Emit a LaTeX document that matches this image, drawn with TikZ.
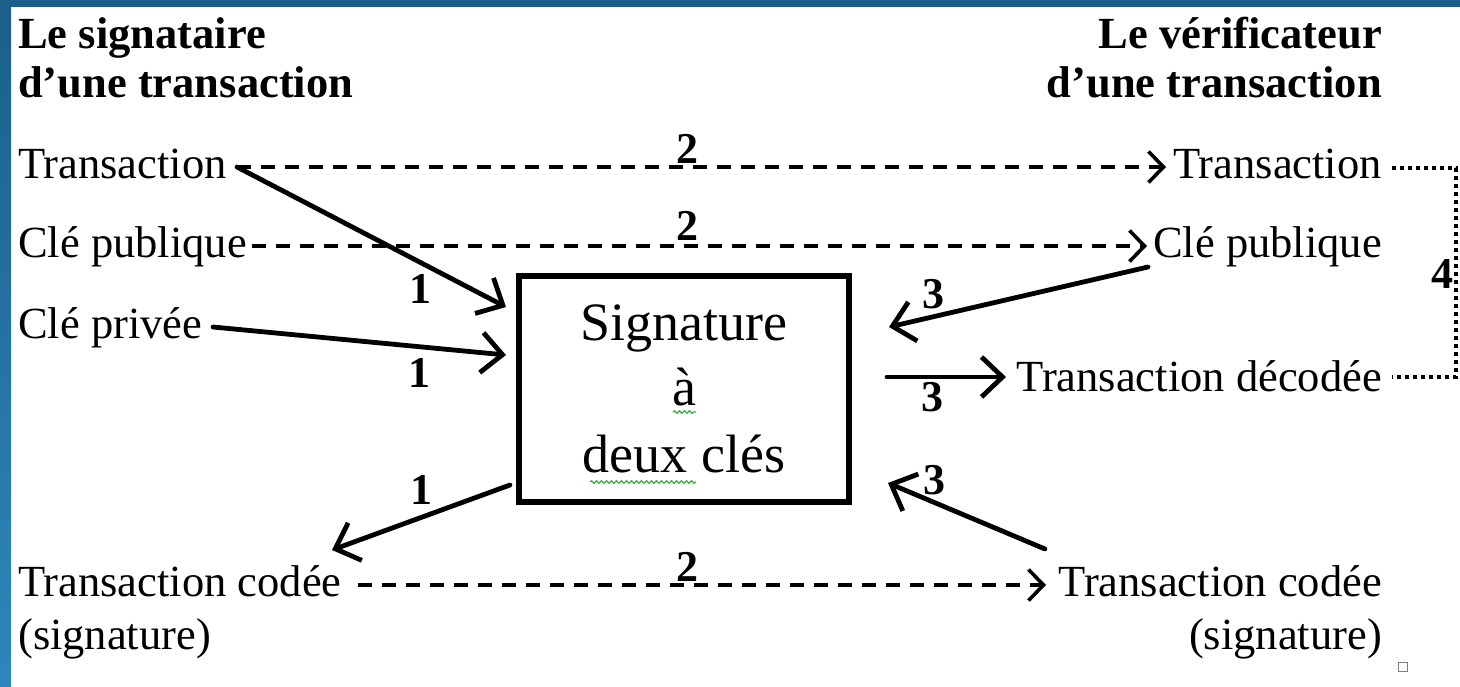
\documentclass[tikz,border=0pt]{standalone}
\usepackage{fontspec}
\setmainfont{Liberation Serif}
\usetikzlibrary{arrows.meta,decorations.pathmorphing,calc}
\definecolor{frameblue}{HTML}{1B5F8A}
\definecolor{framelight}{HTML}{2F86BC}
\definecolor{squiggle}{HTML}{3DAA3D}
\begin{document}
\begin{tikzpicture}[x=1pt,y=-1pt,
  txt/.style={inner sep=0pt,font=\fontsize{44.5}{53}\selectfont},
  boxtxt/.style={inner sep=0pt,font=\fontsize{54}{60}\selectfont},
  head/.style={inner sep=0pt,font=\fontsize{44.5}{49}\selectfont\bfseries},
  num/.style={inner sep=0pt,font=\fontsize{44}{50}\selectfont\bfseries},
  solidarrow/.style={line width=4.8pt,line cap=round,
     -{Straight Barb[length=21pt,width=40pt,line width=4.8pt]}},
  dasharrow/.style={line width=3.6pt,dash pattern=on 14pt off 10pt,
     -{Straight Barb[length=15pt,width=31pt,line width=3.6pt]}},
  dotline/.style={line width=4pt,dash pattern=on 4pt off 4pt},
  spell/.style={squiggle,line width=1.2pt,decorate,
     decoration={snake,segment length=5pt,amplitude=1.3pt}}
]
\useasboundingbox (0,0) rectangle (1460,686);
\fill[white] (0,0) rectangle (1460,686);
% slide frame
\shade[top color=frameblue,bottom color=framelight] (0,0) rectangle (11,686);
\fill[frameblue] (0,0) rectangle (1460,7);

% headings
\node[head,anchor=base west] (hl1) at (18,48) {Le signataire};
\node[head,anchor=base west] (hl2) at (18,97) {d’une transaction};
\node[head,anchor=base east] (hr1) at (1382,48) {Le vérificateur};
\node[head,anchor=base east] (hr2) at (1382,97) {d’une transaction};

% left items
\node[txt,anchor=base west] (lT) at (18,178) {Transaction};
\node[txt,anchor=base west] (lP) at (18,257) {Clé publique};
\node[txt,anchor=base west] (lV) at (18,338) {Clé privée};
\node[txt,anchor=base west] (lC) at (18,596) {Transaction codée};
\node[txt,anchor=base west] (lS) at (18,649) {(signature)};

% right items
\node[txt,anchor=base east] (rT) at (1382,178) {Transaction};
\node[txt,anchor=base east] (rP) at (1382,257) {Clé publique};
\node[txt,anchor=base east] (rD) at (1382,391) {Transaction décodée};
\node[txt,anchor=base east] (rC) at (1382,596) {Transaction codée};
\node[txt,anchor=base east] (rS) at (1382,649) {(signature)};

% central box
\node[draw,line width=6pt,minimum width=330pt,minimum height=226pt,inner sep=0pt] (box) at (684,389) {};
\node[boxtxt,anchor=base] (b1) at (684,340) {Signature};
\node[boxtxt,anchor=base] (b2) at (684,405) {à};
\node[boxtxt,anchor=base] (b3) at (684,472) {deux clés};
\draw[spell] (673,412) -- (696,412);
\draw[spell] (590,482) -- (696,482);

% connector end points
\coordinate (tS) at (237,167);
\coordinate (bIn1) at (506,307);
\coordinate (vS) at (213,327);
\coordinate (bIn2) at (506,355);
\coordinate (bOut1) at (510,485);
\coordinate (cE) at (332,550);
\coordinate (pS) at (1148,267);
\coordinate (bIn3) at (889,327);
\coordinate (bOut2) at (887,377);
\coordinate (dE) at (1006,377);
\coordinate (cS) at (1045,549);
\coordinate (bIn4) at (888,483);

% dashed transfers (2)
\draw[dasharrow] (tS) -- (1166,167) coordinate (tE);
\draw[dasharrow] (252,246) coordinate (pL) -- (1147,246) coordinate (pR);
\draw[dasharrow] (358,585) coordinate (cL) -- (1046,585) coordinate (cR);
\node[num,anchor=base] (n2a) at (687,163) {2};
\node[num,anchor=base] (n2b) at (687,240) {2};
\node[num,anchor=base] (n2c) at (687,581) {2};

% solid arrows (1)
\draw[solidarrow] (tS) -- (bIn1);
\draw[solidarrow] (vS) -- (bIn2);
\draw[solidarrow] (bOut1) -- (cE);
\node[num,anchor=base] (n1a) at (420,303) {1};
\node[num,anchor=base] (n1b) at (419,387) {1};
\node[num,anchor=base] (n1c) at (421,504) {1};

% solid arrows (3)
\draw[solidarrow] (pS) -- (bIn3);
\draw[solidarrow] (bOut2) -- (dE);
\draw[solidarrow] (cS) -- (bIn4);
\node[num,anchor=base] (n3a) at (933,308) {3};
\node[num,anchor=base] (n3b) at (932,411) {3};
\node[num,anchor=base] (n3c) at (934,494) {3};

% dotted bracket (4)
\draw[dotline] (1392,168) -- (1456,168) -- (1456,377) -- (1392,377);
\node[num,anchor=base] (n4) at (1442,288) {4};

% small handle square
\draw[gray,line width=1pt,fill=white] (1398,662) rectangle (1407,671);
\end{tikzpicture}
\end{document}
